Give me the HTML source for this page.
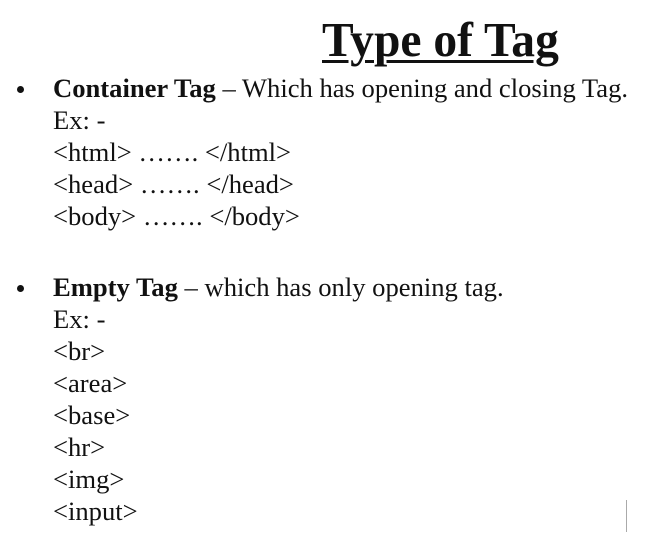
<!DOCTYPE html>
<html><head><style>
html,body{margin:0;padding:0;background:#fff;width:653px;height:535px;overflow:hidden;position:relative}
.t{position:absolute;font-family:"Liberation Serif",serif;color:#111;white-space:nowrap;line-height:1}
.l{font-size:26.6px;left:53px}
.b{position:absolute;left:17px;width:7px;height:7px;border-radius:50%;background:#111}
</style></head><body>
<div class="t" style="left:322px;top:15px;font-size:49px;font-weight:bold;text-decoration:underline;text-decoration-thickness:3px;text-underline-offset:4px;transform:scaleX(0.97);transform-origin:left top">Type of Tag</div>
<div class="b" style="top:86px"></div>
<div class="t l" style="top:75px"><b>Container Tag</b> – Which has opening and closing Tag.</div>
<div class="t l" style="top:107px">Ex: -</div>
<div class="t l" style="top:139px">&lt;html&gt; ……. &lt;/html&gt;</div>
<div class="t l" style="top:171px">&lt;head&gt; ……. &lt;/head&gt;</div>
<div class="t l" style="top:203px">&lt;body&gt; ……. &lt;/body&gt;</div>
<div class="b" style="top:285px"></div>
<div class="t l" style="top:274px"><b>Empty Tag</b> – which has only opening tag.</div>
<div class="t l" style="top:306px">Ex: -</div>
<div class="t l" style="top:338px">&lt;br&gt;</div>
<div class="t l" style="top:370px">&lt;area&gt;</div>
<div class="t l" style="top:402px">&lt;base&gt;</div>
<div class="t l" style="top:434px">&lt;hr&gt;</div>
<div class="t l" style="top:466px">&lt;img&gt;</div>
<div class="t l" style="top:498px">&lt;input&gt;</div>
<div style="position:absolute;left:626px;top:500px;width:1px;height:32px;background:#aaa"></div>
</body></html>
